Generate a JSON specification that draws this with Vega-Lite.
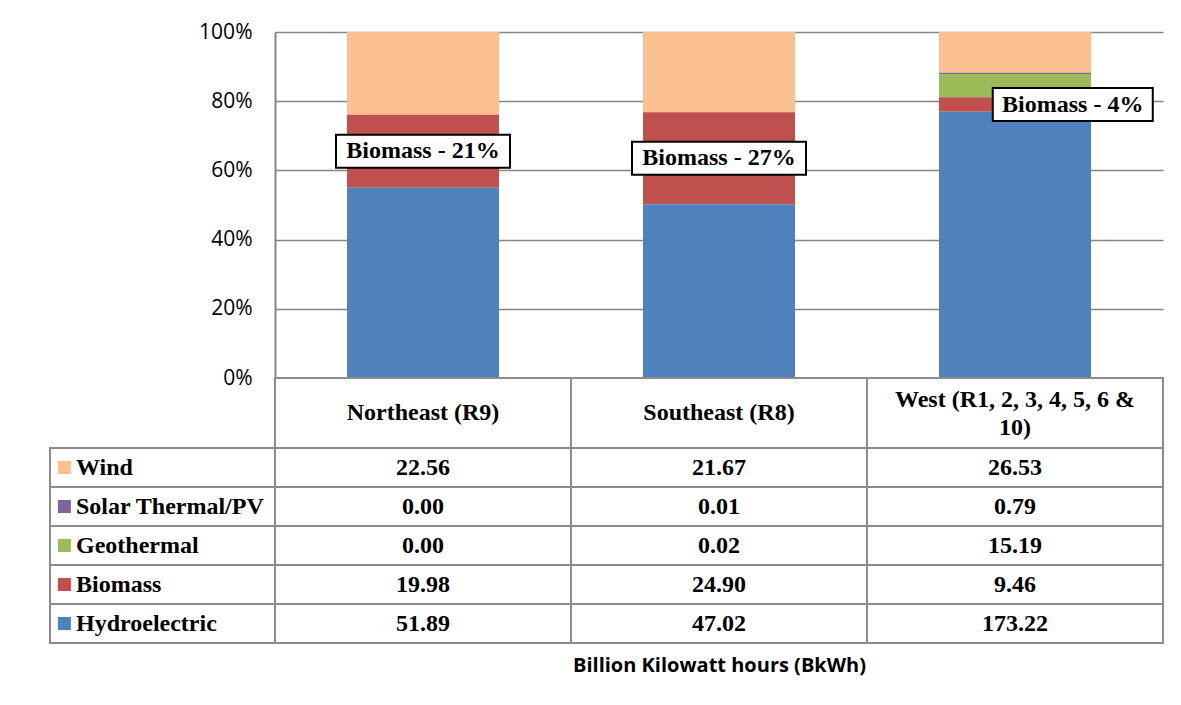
{
  "$schema": "https://vega.github.io/schema/vega-lite/v6.json",
  "padding": {"left": 49, "top": 21, "right": 5, "bottom": 5},
  "spacing": 70,
  "bounds": "flush",
  "background": "white",
  "config": {"view": {"stroke": null}},
  "data": {
    "values": [
      {"region": "Northeast (R9)", "source": "Wind", "value": 22.56},
      {"region": "Northeast (R9)", "source": "Solar Thermal/PV", "value": 0.00},
      {"region": "Northeast (R9)", "source": "Geothermal", "value": 0.00},
      {"region": "Northeast (R9)", "source": "Biomass", "value": 19.98},
      {"region": "Northeast (R9)", "source": "Hydroelectric", "value": 51.89},
      {"region": "Southeast (R8)", "source": "Wind", "value": 21.67},
      {"region": "Southeast (R8)", "source": "Solar Thermal/PV", "value": 0.01},
      {"region": "Southeast (R8)", "source": "Geothermal", "value": 0.02},
      {"region": "Southeast (R8)", "source": "Biomass", "value": 24.90},
      {"region": "Southeast (R8)", "source": "Hydroelectric", "value": 47.02},
      {"region": "West (R1, 2, 3, 4, 5, 6 & 10)", "source": "Wind", "value": 26.53},
      {"region": "West (R1, 2, 3, 4, 5, 6 & 10)", "source": "Solar Thermal/PV", "value": 0.79},
      {"region": "West (R1, 2, 3, 4, 5, 6 & 10)", "source": "Geothermal", "value": 15.19},
      {"region": "West (R1, 2, 3, 4, 5, 6 & 10)", "source": "Biomass", "value": 9.46},
      {"region": "West (R1, 2, 3, 4, 5, 6 & 10)", "source": "Hydroelectric", "value": 173.22}
    ]
  },
  "vconcat": [
    {
      "width": 888,
      "height": 346,
      "encoding": {
        "x": {
          "field": "region", "type": "nominal",
          "sort": ["Northeast (R9)", "Southeast (R8)", "West (R1, 2, 3, 4, 5, 6 & 10)"],
          "scale": {"paddingInner": 0.4865, "paddingOuter": 0.2432},
          "axis": null
        }
      },
      "layer": [
        {
          "transform": [
            {"calculate": "indexof(['Hydroelectric','Biomass','Geothermal','Solar Thermal/PV','Wind'], datum.source)", "as": "ord"}
          ],
          "mark": {"type": "bar"},
          "encoding": {
            "y": {
              "field": "value", "type": "quantitative", "stack": "normalize",
              "scale": {"domain": [0, 1]},
              "axis": {
                "format": "%", "values": [0, 0.2, 0.4, 0.6, 0.8, 1], "title": null,
                "grid": true, "gridColor": "#868686", "gridWidth": 1.5,
                "domainColor": "#868686", "domainWidth": 2, "ticks": false,
                "labelPadding": 23, "labelFont": "Open Sans", "labelFontSize": 21, "labelColor": "black"
              }
            },
            "color": {
              "field": "source", "type": "nominal",
              "scale": {
                "domain": ["Wind", "Solar Thermal/PV", "Geothermal", "Biomass", "Hydroelectric"],
                "range": ["#FAC090", "#8064A2", "#9BBB59", "#C0504D", "#4F81BD"]
              },
              "legend": null
            },
            "order": {"field": "ord", "type": "quantitative"}
          }
        },
        {
          "transform": [
            {"joinaggregate": [{"op": "sum", "field": "value", "as": "total"}], "groupby": ["region"]},
            {"calculate": "indexof(['Hydroelectric','Biomass','Geothermal','Solar Thermal/PV','Wind'], datum.source)", "as": "ord"},
            {"window": [{"op": "sum", "field": "value", "as": "cum"}], "groupby": ["region"], "sort": [{"field": "ord"}], "frame": [null, 0]},
            {"filter": "datum.source == 'Biomass'"},
            {"calculate": "(datum.cum - datum.value / 2) / datum.total", "as": "mid"},
            {"calculate": "'Biomass - ' + round(100 * datum.value / datum.total) + '%'", "as": "label"}
          ],
          "layer": [
            {
              "transform": [{"filter": "datum.region != 'West (R1, 2, 3, 4, 5, 6 & 10)'"}],
              "mark": {"type": "point", "shape": "M-1,-0.19H1V0.19H-1Z", "size": 30276, "filled": true, "fill": "white", "stroke": "black", "strokeWidth": 2, "opacity": 1},
              "encoding": {"y": {"field": "mid", "type": "quantitative"}}
            },
            {
              "transform": [{"filter": "datum.region != 'West (R1, 2, 3, 4, 5, 6 & 10)'"}],
              "mark": {"type": "text", "font": "Liberation Serif", "fontWeight": "bold", "fontSize": 24, "color": "black", "baseline": "middle", "align": "center"},
              "encoding": {"y": {"field": "mid", "type": "quantitative"}, "text": {"field": "label"}}
            },
            {
              "transform": [{"filter": "datum.region == 'West (R1, 2, 3, 4, 5, 6 & 10)'"}],
              "mark": {"type": "point", "shape": "M-1,-0.206H1V0.206H-1Z", "size": 25600, "filled": true, "fill": "white", "stroke": "black", "strokeWidth": 2, "opacity": 1},
              "encoding": {
                "x": {"field": "region", "type": "nominal", "bandPosition": 0.88},
                "y": {"field": "mid", "type": "quantitative"}
              }
            },
            {
              "transform": [{"filter": "datum.region == 'West (R1, 2, 3, 4, 5, 6 & 10)'"}],
              "mark": {"type": "text", "font": "Liberation Serif", "fontWeight": "bold", "fontSize": 24, "color": "black", "baseline": "middle", "align": "center"},
              "encoding": {
                "x": {"field": "region", "type": "nominal", "bandPosition": 0.88},
                "y": {"field": "mid", "type": "quantitative"},
                "text": {"field": "label"}
              }
            }
          ]
        }
      ]
    },
    {
      "width": 888,
      "height": 195,
      "resolve": {"scale": {"x": "independent", "y": "independent"}, "axis": {"x": "independent", "y": "independent"}},
      "layer": [
        {
          "mark": {"type": "rect", "fill": "white", "stroke": "#8c8c8c", "strokeWidth": 2},
          "encoding": {
            "x": {
              "field": "region", "type": "nominal",
              "sort": ["Northeast (R9)", "Southeast (R8)", "West (R1, 2, 3, 4, 5, 6 & 10)"],
              "scale": {"paddingInner": 0, "paddingOuter": 0},
              "axis": {"orient": "bottom", "title": "Billion Kilowatt hours (BkWh)", "labels": false, "ticks": false, "domain": false, "grid": false, "titleFont": "Open Sans", "titleFontSize": 20, "titleFontWeight": "bold", "titleColor": "black", "titlePadding": 12}
            },
            "y": {
              "field": "source", "type": "nominal",
              "sort": ["Wind", "Solar Thermal/PV", "Geothermal", "Biomass", "Hydroelectric"],
              "scale": {"paddingInner": 0, "paddingOuter": 0},
              "axis": null
            }
          }
        },
        {
          "mark": {"type": "text", "font": "Liberation Serif", "fontWeight": "bold", "fontSize": 24, "color": "black", "baseline": "middle", "align": "center"},
          "encoding": {
            "x": {
              "field": "region", "type": "nominal",
              "sort": ["Northeast (R9)", "Southeast (R8)", "West (R1, 2, 3, 4, 5, 6 & 10)"],
              "scale": {"paddingInner": 0, "paddingOuter": 0},
              "axis": null
            },
            "y": {
              "field": "source", "type": "nominal",
              "sort": ["Wind", "Solar Thermal/PV", "Geothermal", "Biomass", "Hydroelectric"],
              "scale": {"paddingInner": 0, "paddingOuter": 0},
              "axis": null
            },
            "text": {"field": "value", "type": "quantitative", "format": ".2f"}
          }
        },
        {
          "transform": [
            {"filter": "datum.region == 'Northeast (R9)'"},
            {"calculate": "'legend'", "as": "col"}
          ],
          "layer": [
            {
              "mark": {"type": "rect", "fill": "white", "stroke": "#8c8c8c", "strokeWidth": 2},
              "encoding": {
                "x": {"field": "col", "type": "nominal", "scale": {"range": [-225, 0], "paddingInner": 0, "paddingOuter": 0}, "axis": null},
                "y": {
                  "field": "source", "type": "nominal",
                  "sort": ["Wind", "Solar Thermal/PV", "Geothermal", "Biomass", "Hydroelectric"],
                  "scale": {"paddingInner": 0, "paddingOuter": 0},
                  "axis": null
                }
              }
            },
            {
              "mark": {"type": "square", "size": 169, "filled": true, "opacity": 1},
              "encoding": {
                "x": {"field": "col", "type": "nominal", "bandPosition": 0.064, "scale": {"range": [-225, 0], "paddingInner": 0, "paddingOuter": 0}, "axis": null},
                "y": {
                  "field": "source", "type": "nominal",
                  "sort": ["Wind", "Solar Thermal/PV", "Geothermal", "Biomass", "Hydroelectric"],
                  "scale": {"paddingInner": 0, "paddingOuter": 0},
                  "axis": null
                },
                "color": {
                  "field": "source", "type": "nominal",
                  "scale": {
                    "domain": ["Wind", "Solar Thermal/PV", "Geothermal", "Biomass", "Hydroelectric"],
                    "range": ["#FAC090", "#8064A2", "#9BBB59", "#C0504D", "#4F81BD"]
                  },
                  "legend": null
                }
              }
            },
            {
              "mark": {"type": "text", "font": "Liberation Serif", "fontWeight": "bold", "fontSize": 24, "color": "black", "baseline": "middle", "align": "left", "dx": 26},
              "encoding": {
                "x": {"field": "col", "type": "nominal", "bandPosition": 0, "scale": {"range": [-225, 0], "paddingInner": 0, "paddingOuter": 0}, "axis": null},
                "y": {
                  "field": "source", "type": "nominal",
                  "sort": ["Wind", "Solar Thermal/PV", "Geothermal", "Biomass", "Hydroelectric"],
                  "scale": {"paddingInner": 0, "paddingOuter": 0},
                  "axis": null
                },
                "text": {"field": "source"}
              }
            }
          ]
        },
        {
          "transform": [
            {"filter": "datum.source == 'Wind'"},
            {"calculate": "'header'", "as": "row"}
          ],
          "layer": [
            {
              "mark": {"type": "rect", "fill": "white", "stroke": "#8c8c8c", "strokeWidth": 2},
              "encoding": {
                "x": {
                  "field": "region", "type": "nominal",
                  "sort": ["Northeast (R9)", "Southeast (R8)", "West (R1, 2, 3, 4, 5, 6 & 10)"],
                  "scale": {"paddingInner": 0, "paddingOuter": 0},
                  "axis": null
                },
                "y": {"field": "row", "type": "nominal", "scale": {"range": [-70, 0], "paddingInner": 0, "paddingOuter": 0}, "axis": null}
              }
            },
            {
              "transform": [{"filter": "datum.region != 'West (R1, 2, 3, 4, 5, 6 & 10)'"}],
              "mark": {"type": "text", "font": "Liberation Serif", "fontWeight": "bold", "fontSize": 24, "color": "black", "baseline": "middle", "align": "center"},
              "encoding": {
                "x": {
                  "field": "region", "type": "nominal",
                  "sort": ["Northeast (R9)", "Southeast (R8)", "West (R1, 2, 3, 4, 5, 6 & 10)"],
                  "scale": {"paddingInner": 0, "paddingOuter": 0},
                  "axis": null
                },
                "y": {"field": "row", "type": "nominal", "scale": {"range": [-70, 0], "paddingInner": 0, "paddingOuter": 0}, "axis": null},
                "text": {"field": "region"}
              }
            },
            {
              "transform": [
                {"filter": "datum.region == 'West (R1, 2, 3, 4, 5, 6 & 10)'"},
                {"calculate": "replace(datum.region, '& ', '&\\n')", "as": "hdr"}
              ],
              "mark": {"type": "text", "font": "Liberation Serif", "fontWeight": "bold", "fontSize": 24, "color": "black", "baseline": "middle", "align": "center", "lineBreak": "\n", "lineHeight": 28, "dy": -13},
              "encoding": {
                "x": {
                  "field": "region", "type": "nominal",
                  "sort": ["Northeast (R9)", "Southeast (R8)", "West (R1, 2, 3, 4, 5, 6 & 10)"],
                  "scale": {"paddingInner": 0, "paddingOuter": 0},
                  "axis": null
                },
                "y": {"field": "row", "type": "nominal", "scale": {"range": [-70, 0], "paddingInner": 0, "paddingOuter": 0}, "axis": null},
                "text": {"field": "hdr"}
              }
            }
          ]
        }
      ]
    }
  ]
}
